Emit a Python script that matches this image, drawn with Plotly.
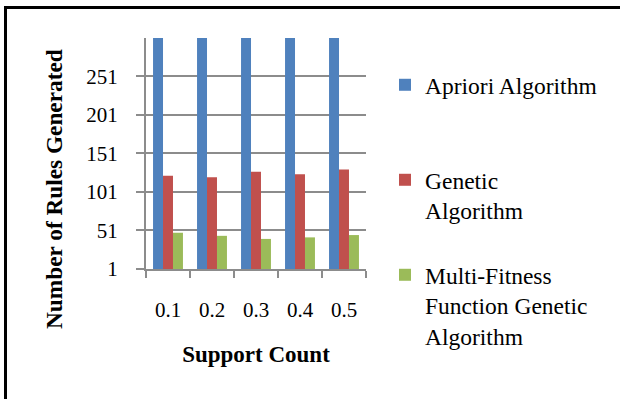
import plotly.graph_objects as go

# ---- data ----
support_counts = ["0.1", "0.2", "0.3", "0.4", "0.5"]
apriori = [350, 350, 350, 350, 350]          # exceed the axis (clipped at the top)
genetic = [122, 120, 127, 124, 130]
multi_fitness = [48, 44, 40, 42, 45]
series_names = ["Apriori Algorithm", "Genetic<br>Algorithm",
                "Multi-Fitness<br>Function Genetic<br>Algorithm"]
y_ticks = [1, 51, 101, 151, 201, 251]

colors = ["#4F81BD", "#C0504D", "#9BBB59"]
FONT = "Liberation Serif"

W, H = 620, 399
L, R, T, B = 146, 254, 38, 130
PW, PH = W - L - R, H - T - B

def px_x(px):
    return (px - L) / PW

def px_y(py):
    return (H - B - py) / PH

fig = go.Figure()
for i, (vals, name) in enumerate(zip([apriori, genetic, multi_fitness], series_names)):
    fig.add_trace(go.Bar(
        x=support_counts, y=vals, name=name,
        marker=dict(color=colors[i], line=dict(width=0)),
        legend="legend" if i == 0 else f"legend{i+1}",
    ))

grid_col = "#8c8c8c"

def make_legend(ypx):
    return dict(font=dict(family=FONT, size=23.5, color="black"),
                xref="paper", yref="paper", x=px_x(385), xanchor="left",
                y=px_y(ypx), yanchor="top",
                valign="top", itemwidth=30, bgcolor="rgba(0,0,0,0)",
                tracegroupgap=0, orientation="v")

fig.update_layout(
    width=W, height=H,
    margin=dict(l=L, r=R, t=T, b=B, autoexpand=False),
    paper_bgcolor="white", plot_bgcolor="white",
    barmode="group", bargap=0.32, bargroupgap=0,
    font=dict(family=FONT, color="black"),
    showlegend=True,
    legend=make_legend(63),
    legend2=make_legend(158),
    legend3=make_legend(253),
    xaxis=dict(
        type="category", showline=True, linecolor=grid_col, linewidth=2,
        ticks="outside", tickson="boundaries", ticklen=7, tickwidth=2, tickcolor=grid_col,
        tickfont=dict(family=FONT, size=21, color="black"), ticklabelstandoff=21,
        showgrid=False,
        title=dict(text="<b>Support Count</b>", font=dict(family=FONT, size=23, color="black"),
                   standoff=25),
    ),
    yaxis=dict(
        range=[1, 300.5], tickvals=y_ticks, ticktext=[str(v) for v in y_ticks],
        showline=True, linecolor=grid_col, linewidth=2,
        ticks="outside", ticklen=8, tickwidth=2, tickcolor=grid_col,
        showgrid=True, gridcolor=grid_col, gridwidth=2, zeroline=False,
        tickfont=dict(family=FONT, size=21, color="black"), ticklabelstandoff=14,
    ),
    annotations=[dict(
        text="<b>Number of Rules Generated</b>", textangle=-90,
        xref="paper", yref="paper", x=px_x(54), y=px_y(189),
        xanchor="center", yanchor="middle", showarrow=False,
        font=dict(family=FONT, size=23.3, color="black"),
    )],
    shapes=[
        dict(type="line", xref="paper", yref="paper", x0=px_x(4), x1=px_x(622),
             y0=px_y(7.5), y1=px_y(7.5), line=dict(color="black", width=3)),
        dict(type="line", xref="paper", yref="paper", x0=px_x(5.5), x1=px_x(5.5),
             y0=px_y(6), y1=px_y(402), line=dict(color="black", width=3)),
    ],
)

fig.write_html("out.html")
